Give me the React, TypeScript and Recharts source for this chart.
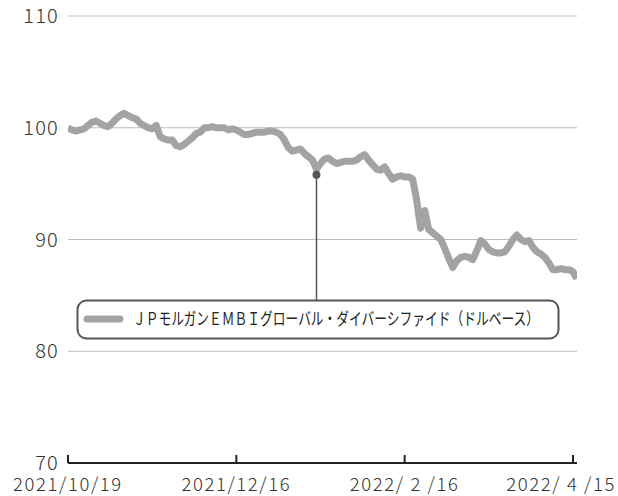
import React from "react";
import {
  LineChart,
  Line,
  XAxis,
  YAxis,
  CartesianGrid,
  Legend,
  ReferenceDot,
  ReferenceLine,
} from "recharts";

// Index values (business days from 2021/10/19 to 2022/4/15+)
const seriesValues: number[] = [
  100.0, 99.8, 99.7, 99.8, 99.9, 100.2, 100.5, 100.6, 100.4, 100.2,
  100.1, 100.4, 100.8, 101.1, 101.3, 101.1, 100.9, 100.8, 100.4, 100.2,
  100.0, 99.9, 100.2, 99.2, 99.0, 98.9, 98.9, 98.4, 98.3, 98.5,
  98.8, 99.1, 99.5, 99.6, 100.0, 100.0, 100.1, 100.0, 100.0, 100.0,
  99.8, 99.9, 99.8, 99.6, 99.4, 99.4, 99.5, 99.6, 99.6, 99.6,
  99.7, 99.7, 99.6, 99.4, 98.9, 98.2, 97.9, 98.0, 98.1, 97.7,
  97.4, 97.1, 96.3, 96.8, 97.2, 97.3, 97.0, 96.8, 96.9, 97.0,
  97.0, 97.0, 97.1, 97.4, 97.6, 97.1, 96.7, 96.3, 96.2, 96.5,
  95.9, 95.4, 95.6, 95.7, 95.6, 95.6, 95.4, 93.5, 91.0, 92.6,
  90.9, 90.6, 90.3, 90.0, 89.2, 88.3, 87.5, 88.1, 88.4, 88.5,
  88.4, 88.2, 89.0, 89.9, 89.6, 89.1, 88.9, 88.8, 88.8, 88.9,
  89.4, 90.0, 90.4, 90.0, 89.8, 89.9, 89.3, 88.9, 88.7, 88.4,
  87.9, 87.3, 87.3, 87.4, 87.3, 87.3, 87.1, 86.5,
];

const seriesName = "ＪＰモルガンＥＭＢＩグローバル・ダイバーシファイド（ドルベース）";

const xTickIndices: number[] = [0, 42, 84, 126];
const xTickLabels: string[] = ["2021/10/19", "2021/12/16", "2022/ 2 /16", "2022/ 4 /15"];
const yTicks: number[] = [70, 80, 90, 100, 110];

const markerIndex = 62;
const markerValue = 95.8;
const connectorEndValue = 84.6;

const data = seriesValues.map((v, i) => ({ i, value: v }));

const FONT = "'Noto Sans CJK JP', 'Noto Sans', sans-serif";
const LINE_COLOR = "#a2a4a2";
const CHART_W = 618;
const CHART_H = 496;

const XTick = (props: any) => {
  const { x, y, payload } = props;
  const pos = xTickIndices.indexOf(payload.value);
  const label = pos >= 0 ? xTickLabels[pos] : "";
  const w = 116;
  let anchor: "middle" | "end" = "middle";
  let tx = x;
  if (x + w / 2 > CHART_W) {
    anchor = "end";
    tx = CHART_W - 2;
  }
  return (
    <g>
      <line x1={x} x2={x} y1={y - 8} y2={y} stroke="#222" strokeWidth={2} />
      <text
        x={tx}
        y={y + 28}
        textAnchor={anchor}
        fontFamily={FONT}
        fontWeight={300}
        fontSize={18.5}
        fill="#333"
        letterSpacing={1.6}
      >
        {label}
      </text>
    </g>
  );
};

const LegendBox = () => (
  <svg width={486} height={42} style={{ display: "block" }}>
    <rect x={1.5} y={1.5} width={481} height={38} rx={9} ry={9} fill="#fff" stroke="#555" strokeWidth={2} />
    <line x1={11} x2={44} y1={20} y2={20} stroke={LINE_COLOR} strokeWidth={7} strokeLinecap="round" />
    <text
      transform="translate(57,26) scale(0.75,1)"
      x={0}
      y={0}
      fontFamily={FONT}
      fontWeight={400}
      fontSize={17}
      fill="#222"
    >
      {seriesName}
    </text>
  </svg>
);

export default function App() {
  return (
    <div style={{ position: "absolute", left: 0, top: 0, width: CHART_W, height: CHART_H, background: "#fff" }}>
      <LineChart
        width={CHART_W}
        height={CHART_H}
        data={data}
        margin={{ top: 16, right: 41, bottom: 0, left: 8 }}
      >
        <CartesianGrid horizontal vertical={false} stroke="#bdbdbd" strokeWidth={1} />
        <XAxis
          dataKey="i"
          type="number"
          domain={[0, 127]}
          ticks={xTickIndices}
          interval={0}
          height={33}
          tickSize={0}
          tickMargin={0}
          tickLine={false}
          axisLine={{ stroke: "#222", strokeWidth: 2 }}
          tick={<XTick />}
          allowDataOverflow
        />
        <YAxis
          type="number"
          domain={[70, 110]}
          ticks={yTicks}
          width={60}
          tickSize={0}
          tickMargin={9}
          axisLine={false}
          tickLine={false}
          tick={{ fontFamily: FONT, fontWeight: 300, fontSize: 20, fill: "#333", letterSpacing: 1.2 }}
          allowDataOverflow
        />
        <Legend
          layout="horizontal"
          verticalAlign="middle"
          align="center"
          wrapperStyle={{ left: 76, top: 299, width: 486, height: 42 }}
          content={() => <LegendBox />}
        />
        <Line
          type="linear"
          dataKey="value"
          name={seriesName}
          stroke={LINE_COLOR}
          strokeWidth={7}
          strokeLinejoin="round"
          strokeLinecap="butt"
          dot={false}
          activeDot={false}
          isAnimationActive={false}
        />
        <ReferenceLine
          segment={[
            { x: markerIndex, y: markerValue },
            { x: markerIndex, y: connectorEndValue },
          ]}
          stroke="#555"
          strokeWidth={1.5}
        />
        <ReferenceDot x={markerIndex} y={markerValue} r={4} fill="#555" stroke="none" />
      </LineChart>
    </div>
  );
}
